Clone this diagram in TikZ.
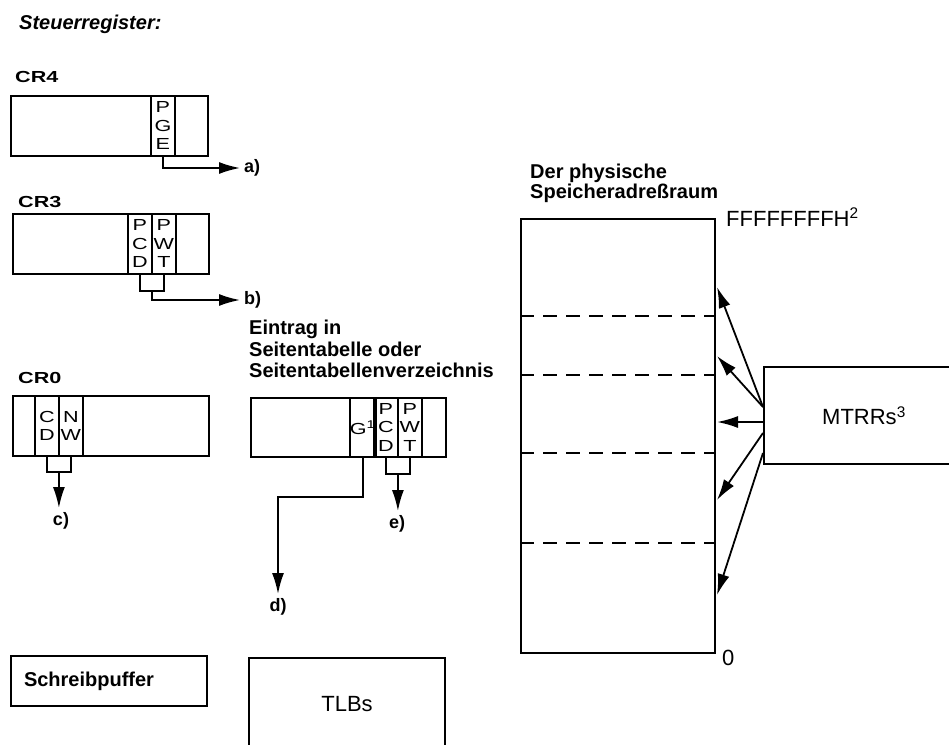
\documentclass[tikz,border=0pt]{standalone}
\usepackage{fontspec}
\setmainfont{Liberation Sans}
\newfontfamily\squashfont{Liberation Sans}[FakeStretch=1.35]
\usetikzlibrary{arrows.meta,calc,positioning}

\newcommand\cellfont{\squashfont\fontsize{16}{18.5}\selectfont}
\newcommand\crfont{\squashfont\bfseries\fontsize{16}{18}\selectfont}
\newcommand\headfont{\bfseries\fontsize{20}{21.5}\selectfont}
\newcommand\plainfont{\fontsize{22}{26}\selectfont}

\begin{document}
\begin{tikzpicture}[
  x=1pt, y=-1pt,
  reg/.style    ={draw,line width=2pt,anchor=north west,inner sep=0pt,
                  minimum height=60pt},
  field/.style  ={draw,line width=1.8pt,anchor=north west,inner sep=0pt,
                  minimum width=24pt,minimum height=60pt,align=center,
                  font=\cellfont},
  crlabel/.style={anchor=base west,inner sep=0pt,font=\crfont},
  hint/.style   ={inner sep=4pt,font=\bfseries\fontsize{18}{20}\selectfont},
  lnk/.style    ={line width=1.8pt},
  arr/.style    ={lnk,-{Latex[length=21pt,width=12pt]}},
  sep/.style    ={line width=1.6pt,dash pattern=on 14pt off 9pt},
]
\useasboundingbox (0,0) rectangle (949,744);
\clip (0,0) rectangle (949,744);

%% ===== Title =================================================================
\node[anchor=base west,inner sep=0pt,
      font=\bfseries\itshape\fontsize{20}{24}\selectfont] (title)
      at (19,29) {Steuerregister:};

%% ===== CR4 ===================================================================
\node[crlabel] (cr4lab) at (15,82) {CR4};
\node[reg,minimum width=197pt] (cr4) at (10,95) {};
\node[field] (pge) at (150,95) {P\\G\\E};
\node[hint,anchor=west] (lbla) at (240,168) {a)};
\draw[arr] (pge.south) |- (lbla.west);

%% ===== CR3 ===================================================================
\node[crlabel] (cr3lab) at (18,207) {CR3};
\node[reg,minimum width=196pt] (cr3) at (12,213) {};
\node[field] (pcd3) at (127,213) {P\\C\\D};
\node[field] (pwt3) at (151,213) {P\\W\\T};
\node[hint,anchor=west] (lblb) at (240,300) {b)};
\coordinate (m3) at ($(pcd3.south)!.5!(pwt3.south)+(0,16)$);
\draw[lnk] (pcd3.south) -- ++(0,16) -| (pwt3.south);
\draw[arr] (m3) |- (lblb.west);

%% ===== CR0 ===================================================================
\node[crlabel] (cr0lab) at (18,383) {CR0};
\node[reg,minimum width=196pt] (cr0) at (12,395) {};
\node[field] (cd) at (34,395) {C\\D};
\node[field] (nw) at (58,395) {N\\W};
\node[hint,anchor=north] (lblc) at (61,508) {c)};
\coordinate (m0) at ($(cd.south)!.5!(nw.south)+(0,15)$);
\draw[lnk] (cd.south) -- ++(0,15) -| (nw.south);
\draw[arr] (m0) -- (m0 |- lblc.north);

%% ===== Page table entry ======================================================
\node[anchor=north west,inner sep=0pt,align=left,font=\headfont] (ptehead)
      at (249,320) {Eintrag in\\Seitentabelle oder\\Seitentabellenverzeichnis};
\node[reg,minimum width=195pt,minimum height=59pt] (pte) at (250,397) {};
\node[field,minimum height=59pt] (gbit) at (349,397) {G\textsuperscript{1}};
\node[field,minimum height=59pt] (pcd) at (373,397) {P\\C\\D};
\node[field,minimum height=59pt] (pwt) at (397,397) {P\\W\\T};
\node[hint,anchor=north] (lbld) at (278,594) {d)};
\node[hint,anchor=north] (lble) at (397,511) {e)};
\draw[arr] (gbit.south) -- ++(0,39) -| (lbld.north);
\coordinate (me) at ($(pcd.south)!.5!(pwt.south)+(0,16)$);
\draw[lnk] (pcd.south) -- ++(0,16) -| (pwt.south);
\draw[arr] (me) -- (me |- lble.north);

%% ===== Buffers ===============================================================
\node[reg,minimum height=50pt,text width=170pt,inner xsep=13pt,align=left,
      font=\headfont] (wbuf) at (10,655) {Schreibpuffer};
\node[reg,minimum width=196pt,minimum height=92pt,font=\plainfont] (tlb)
      at (248,657) {TLBs};

%% ===== Physical address space ================================================
\node[anchor=north west,inner sep=0pt,align=left,
      font=\bfseries\fontsize{20}{17}\selectfont] (memhead)
      at (530,164) {Der physische\\Speicheradreßraum};
\node[reg,minimum width=194pt,minimum height=434pt] (mem) at (520,218) {};
\node[anchor=base west,inner sep=0pt,font=\plainfont] (memtop)
      at (726,226) {FFFFFFFFH\textsuperscript{2}};
\node[anchor=base west,inner sep=0pt,font=\plainfont] (membot)
      at (722,665) {0};
\foreach \y in {98,157,235,325}
  \draw[sep] ($(mem.north west)+(0,\y)$) -- ($(mem.north east)+(0,\y)$);

%% ===== MTRRs =================================================================
\node[reg,minimum width=200pt,minimum height=97pt,font=\plainfont] (mtrr)
      at (763,366) {MTRRs\textsuperscript{3}};
\foreach \s/\t in {41/69, 41/138, 56/204, 67/282, 87/377}
  \draw[arr] ($(mtrr.north west)+(0,\s)$) -- ($(mem.north east)+(1,\t)$);

\end{tikzpicture}
\end{document}
